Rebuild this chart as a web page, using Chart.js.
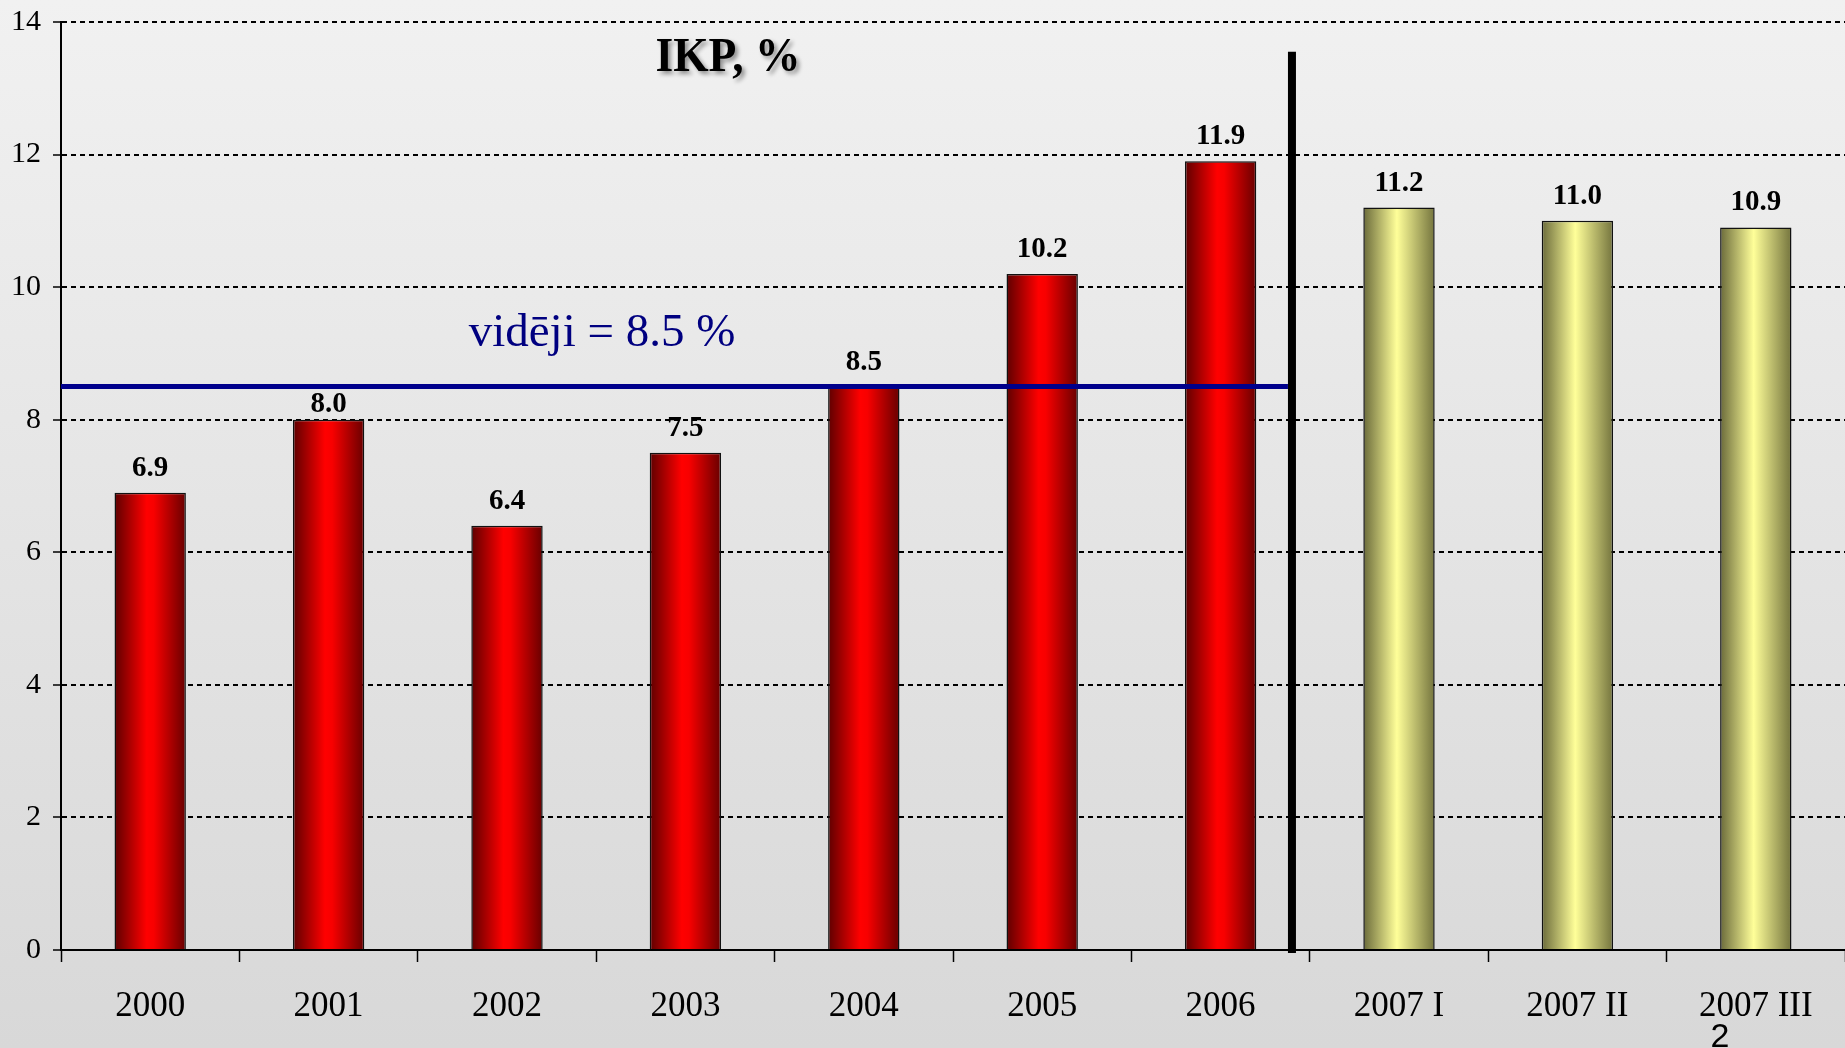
<!DOCTYPE html>
<html>
<head>
<meta charset="utf-8">
<script src="https://cdn.jsdelivr.net/npm/chart.js@4.4.1/dist/chart.umd.min.js"></script>
<style>
html, body { margin: 0; padding: 0; width: 1845px; height: 1048px; overflow: hidden;
  background: linear-gradient(to bottom, #f1f1f1 0%, #d8d8d8 100%); }
#wrap { position: relative; width: 1845px; height: 1048px; }
</style>
</head>
<body>
<div id="wrap"><canvas id="chart"></canvas></div>
<script>
// data
const periods = ['2000', '2001', '2002', '2003', '2004', '2005', '2006', '2007 I', '2007 II', '2007 III'];
const growth = [6.9, 8.0, 6.4, 7.5, 8.5, 10.2, 11.9, 11.2, 11.0, 10.9];
const lastYearIndex = 6; // after 2006 the values are quarters of 2007
const average = 8.5;
const yTicks = [0, 2, 4, 6, 8, 10, 12, 14];
const titleText = 'IKP, %';
const averageText = 'vidēji = 8.5 %';
const pageNumber = '2';

const serif = "'Liberation Serif', 'Times New Roman', serif";
const barShare = 0.4;

function barFill(c) {
  const chart = c.chart;
  const xs = chart.scales.x;
  if (!chart.chartArea || !xs) return '#ff0000';
  const cx = xs.getPixelForValue(c.dataIndex);
  const half = xs.width / periods.length * barShare / 2;
  const g = chart.ctx.createLinearGradient(cx - half, 0, cx + half, 0);
  if (c.dataIndex > lastYearIndex) {
    g.addColorStop(0, '#6a6a3a');
    g.addColorStop(0.47, '#ffff99');
    g.addColorStop(1, '#74743e');
  } else {
    g.addColorStop(0, '#5e0000');
    g.addColorStop(0.45, '#ff0000');
    g.addColorStop(0.55, '#f80000');
    g.addColorStop(1, '#680000');
  }
  return g;
}

const extras = {
  id: 'extras',
  afterDatasetsDraw(chart) {
    const ctx = chart.ctx;
    const xs = chart.scales.x, ys = chart.scales.y;
    const area = chart.chartArea;
    const catW = xs.width / periods.length;
    const ay = ys.getPixelForValue(average);

    // value labels (pushed below the average line if they would touch it)
    ctx.save();
    ctx.fillStyle = '#000';
    ctx.font = 'bold 29px ' + serif;
    ctx.textAlign = 'center';
    ctx.textBaseline = 'alphabetic';
    chart.getDatasetMeta(0).data.forEach((bar, i) => {
      let by = bar.y - 17;
      if (bar.x < xs.getPixelForValue(lastYearIndex) + catW && by - 21 < ay + 3 && by > ay - 3) by = ay + 25;
      ctx.fillText(growth[i].toFixed(1), bar.x, by);
    });
    ctx.restore();

    // separator between years and quarters
    const sepX = xs.getPixelForValue(lastYearIndex) + catW * 0.4;
    ctx.save();
    ctx.strokeStyle = '#000';
    ctx.lineWidth = 8;
    ctx.beginPath();
    ctx.moveTo(sepX, ys.getPixelForValue(13.55));
    ctx.lineTo(sepX, area.bottom + 3);
    ctx.stroke();
    ctx.restore();

    // average line
    ctx.save();
    ctx.strokeStyle = '#00008c';
    ctx.lineWidth = 5;
    ctx.beginPath();
    ctx.moveTo(area.left, ay);
    ctx.lineTo(sepX - 4, ay);
    ctx.stroke();
    ctx.fillStyle = '#000080';
    ctx.font = '47px ' + serif;
    ctx.textAlign = 'center';
    ctx.fillText(averageText, 602, ay - 41);
    ctx.restore();

    // title with shadow
    ctx.save();
    ctx.font = 'bold 49px ' + serif;
    ctx.textAlign = 'center';
    ctx.fillStyle = '#000';
    ctx.shadowColor = 'rgba(0,0,0,0.4)';
    ctx.shadowOffsetX = 3;
    ctx.shadowOffsetY = 3;
    ctx.shadowBlur = 4;
    ctx.translate(728, 71);
    ctx.scale(0.93, 1);
    ctx.fillText(titleText, 0, 0);
    ctx.restore();

    // slide number
    ctx.save();
    ctx.font = "34px 'Liberation Sans', Arial, sans-serif";
    ctx.fillStyle = '#000';
    ctx.textAlign = 'center';
    ctx.fillText(pageNumber, 1720, 1047);
    ctx.restore();
  }
};

new Chart(document.getElementById('chart'), {
  type: 'bar',
  data: {
    labels: periods,
    datasets: [{
      data: growth,
      backgroundColor: barFill,
      borderColor: '#111',
      borderWidth: 1.5,
      categoryPercentage: 1,
      barPercentage: barShare
    }]
  },
  options: {
    responsive: true,
    maintainAspectRatio: false,
    animation: false,
    layout: { padding: { top: 22, right: 0, bottom: 0, left: 0 } },
    plugins: { legend: { display: false }, tooltip: { enabled: false } },
    scales: {
      x: {
        grid: { drawOnChartArea: false, drawTicks: true, tickLength: 12, tickColor: '#000', tickWidth: 1.5 },
        border: { color: '#000', width: 2 },
        ticks: { color: '#000', font: { family: serif, size: 35 }, padding: 24, maxRotation: 0, autoSkip: false },
        afterFit(s) { s.height = 98; s.paddingLeft = 0; s.paddingRight = 0; }
      },
      y: {
        min: 0,
        max: 14,
        afterBuildTicks(s) { s.ticks = yTicks.map(v => ({ value: v })); },
        grid: {
          color: c => c.index === 0 ? 'rgba(0,0,0,0)' : '#000',
          lineWidth: 2,
          tickLength: 8, tickColor: '#000', tickWidth: 1.5, tickBorderDash: []
        },
        border: { color: '#000', width: 2, dash: [5, 4] },
        ticks: { color: '#000', font: { family: serif, size: 30 }, padding: 12 },
        afterFit(s) { s.width = 61; s.paddingTop = 0; s.paddingBottom = 0; }
      }
    }
  },
  plugins: [extras]
});
</script>
</body>
</html>
